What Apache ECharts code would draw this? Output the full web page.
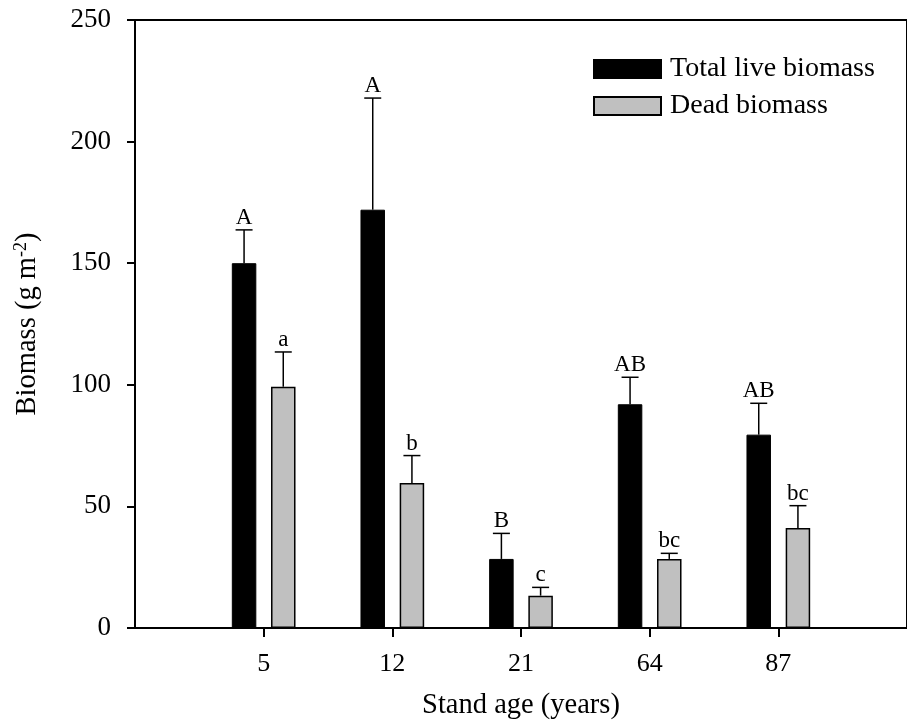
<!DOCTYPE html>
<html>
<head>
<meta charset="utf-8">
<script src="https://cdn.jsdelivr.net/npm/echarts@6/dist/echarts.min.js"></script>
<style>
html,body{margin:0;padding:0;background:#fff;}
#chart{width:907px;height:725px;}
</style>
</head>
<body>
<div id="chart"></div>
<script>
// ---- data ----
var ages = ['5', '12', '21', '64', '87'];
var liveBiomass = [150, 172, 28.4, 92, 79.5];
var liveErr = [13.7, 45.9, 10.5, 11.1, 12.9];
var liveLetters = ['A', 'A', 'B', 'AB', 'AB'];
var deadBiomass = [99.2, 59.6, 13.3, 28.4, 41.1];
var deadErr = [14.3, 11.3, 3.4, 2.3, 9.2];
var deadLetters = ['a', 'b', 'c', 'bc', 'bc'];
var yTicks = [0, 50, 100, 150, 200, 250];

var FONT = "'Liberation Serif', 'Times New Roman', serif";
var chart = echarts.init(document.getElementById('chart'));

var positions = ages.map(function (a, i) { return i + 1; });

function barData(vals) {
  return vals.map(function (v, i) { return [positions[i], v]; });
}
function errData(vals, errs, letters) {
  return vals.map(function (v, i) { return [positions[i], v, errs[i], letters[i]]; });
}
function errRender(dx) {
  return function (params, api) {
    var x = api.value(0), v = api.value(1), e = api.value(2);
    var letter = api.value(3);
    var p0 = api.coord([x, v]);
    var p1 = api.coord([x, v + e]);
    var cx = p0[0] + dx;
    var half = 8.5;
    return {
      type: 'group',
      children: [
        { type: 'line', shape: { x1: cx, y1: p0[1], x2: cx, y2: p1[1] },
          style: { stroke: '#000', lineWidth: 1.5 } },
        { type: 'line', shape: { x1: cx - half, y1: p1[1], x2: cx + half, y2: p1[1] },
          style: { stroke: '#000', lineWidth: 1.5 } },
        { type: 'text', x: cx, y: p1[1] - 0.5,
          style: { text: letter, fill: '#000', font: '23px ' + FONT,
                   align: 'center', verticalAlign: 'bottom' } }
      ]
    };
  };
}

var option = {
  animation: false,
  backgroundColor: '#fff',
  grid: { left: 135, top: 20, width: 782, bottom: 96, show: true,
          borderColor: '#000', borderWidth: 2, backgroundColor: 'transparent' },
  legend: {
    orient: 'vertical', left: 588, top: 50,
    itemWidth: 67, itemHeight: 18, itemGap: 9,
    icon: 'rect',
    textStyle: { fontFamily: FONT, fontSize: 28, color: '#000', padding: [0, 0, 0, 4] },
    data: ['Total live biomass', 'Dead biomass']
  },
  xAxis: {
    type: 'value', min: 0, max: 6, interval: 1,
    name: 'Stand age (years)', nameLocation: 'middle', nameGap: 63,
    nameTextStyle: { fontFamily: FONT, fontSize: 28.5, color: '#000' },
    axisLine: { show: true, lineStyle: { color: '#000', width: 2 } },
    axisTick: { show: true, length: 9, lineStyle: { color: '#000', width: 2 },
                customValues: positions },
    axisLabel: { customValues: positions, margin: 23,
                 fontFamily: FONT, fontSize: 26, color: '#000',
                 formatter: function (v) { return ages[Math.round(v) - 1] || ''; } },
    splitLine: { show: false }
  },
  yAxis: {
    type: 'value', min: 0, max: 250, interval: 50,
    name: 'Biomass (g m{sup|-2})', nameLocation: 'middle', nameGap: 92, nameRotate: 90,
    nameTextStyle: { fontFamily: FONT, fontSize: 28.5, color: '#000',
      rich: { sup: { fontFamily: FONT, fontSize: 18, color: '#000', verticalAlign: 'top', padding: [0, 0, 13, 0] } } },
    axisLine: { show: true, lineStyle: { color: '#000', width: 2 } },
    axisTick: { show: true, length: 8, inside: false, lineStyle: { color: '#000', width: 2 } },
    axisLabel: { margin: 24, fontFamily: FONT, fontSize: 27, color: '#000',
                 customValues: yTicks },
    splitLine: { show: false }
  },
  series: [
    { name: 'Total live biomass', type: 'bar', data: barData(liveBiomass),
      barWidth: 24.5, barGap: '60%',
      itemStyle: { color: '#000', borderColor: '#000', borderWidth: 1 } },
    { name: 'Dead biomass', type: 'bar', data: barData(deadBiomass),
      barWidth: 24.5, barGap: '60%',
      itemStyle: { color: '#c0c0c0', borderColor: '#000', borderWidth: 1.5 } },
    { type: 'custom', data: errData(liveBiomass, liveErr, liveLetters),
      renderItem: errRender(-19.6), z: 5, clip: false, silent: true },
    { type: 'custom', data: errData(deadBiomass, deadErr, deadLetters),
      renderItem: errRender(19.6), z: 5, clip: false, silent: true }
  ]
};
chart.setOption(option);
</script>
</body>
</html>
